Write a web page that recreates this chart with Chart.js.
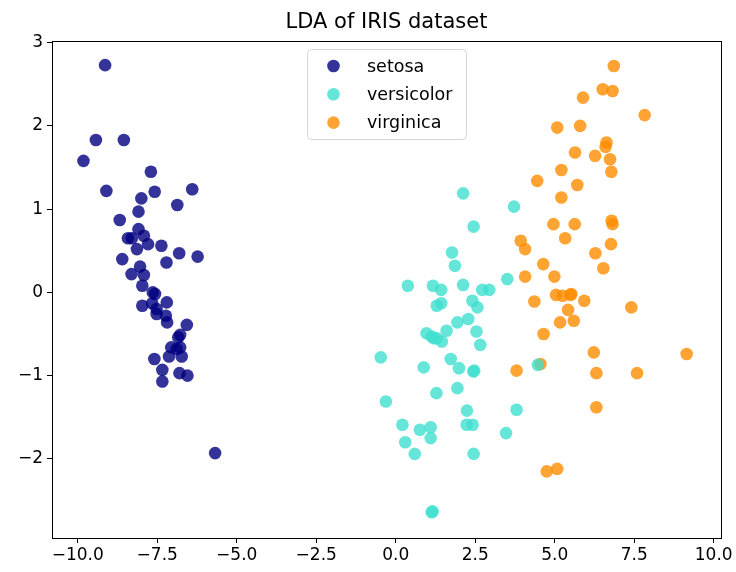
<!DOCTYPE html>
<html><head><meta charset="utf-8">
<script src="https://cdn.jsdelivr.net/npm/chart.js@4/dist/chart.umd.min.js"></script>
<style>html,body{margin:0;padding:0;background:#fff}#wrap{width:736px;height:572px;position:relative}</style>
</head><body><div id="wrap"><canvas id="c" width="736" height="572"></canvas></div>
<script>
const titleText = 'LDA of IRIS dataset';
const categories = ['setosa', 'versicolor', 'virginica'];
const colors = ['rgba(0,0,128,0.8)', 'rgba(64,224,208,0.8)', 'rgba(255,140,0,0.8)'];

const setosaX = [-9.14,-9.43,-8.55,-9.82,-7.70,-9.10,-7.58,-6.40,-8.00,-6.87,-8.09,-8.68,-8.09,-7.92,-8.42,-8.30,-8.14,-7.79,-7.37,-6.81,-6.23,-8.60,-7.21,-8.04,-8.31,-7.92,-7.97,-7.64,-7.57,-7.20,-7.66,-7.97,-7.52,-7.52,-7.23,-7.19,-6.57,-6.78,-6.84,-7.06,-6.89,-6.78,-7.13,-6.73,-7.59,-7.34,-6.80,-6.55,-7.34,-5.68];
const setosaY = [2.73,1.83,1.83,1.58,1.45,1.22,1.21,1.24,1.13,1.05,0.97,0.87,0.76,0.68,0.65,0.65,0.52,0.58,0.56,0.47,0.43,0.40,0.36,0.31,0.22,0.21,0.08,0.00,-0.02,-0.12,-0.13,-0.16,-0.20,-0.26,-0.28,-0.36,-0.39,-0.51,-0.54,-0.66,-0.68,-0.66,-0.77,-0.77,-0.80,-0.93,-0.97,-1.00,-1.07,-1.93];

const versicolorX = [2.12,3.72,2.45,1.77,1.86,0.38,1.17,1.43,2.12,2.72,2.94,3.51,2.41,2.57,1.29,1.43,1.94,2.28,2.54,0.97,1.13,1.29,1.45,1.60,2.66,-0.47,1.73,1.99,0.88,2.44,2.47,1.94,1.28,-0.31,2.24,3.80,0.21,0.76,1.10,1.10,2.23,2.42,3.47,0.30,0.60,2.45,1.16,1.13,4.47,1.20];
const versicolorY = [1.19,1.03,0.79,0.48,0.32,0.08,0.08,0.03,0.09,0.03,0.03,0.16,-0.10,-0.18,-0.16,-0.13,-0.36,-0.32,-0.47,-0.49,-0.53,-0.55,-0.59,-0.46,-0.63,-0.78,-0.80,-0.91,-0.90,-0.95,-0.94,-1.15,-1.21,-1.31,-1.42,-1.41,-1.59,-1.65,-1.62,-1.75,-1.59,-1.59,-1.69,-1.80,-1.94,-1.94,-2.63,-2.64,-0.87,-0.55];

const virginicaX = [6.86,6.51,6.82,5.89,7.83,5.08,5.80,6.63,6.60,5.64,6.27,6.74,6.78,5.21,4.45,5.71,5.21,4.96,5.63,6.79,6.82,3.93,5.33,6.77,4.07,6.28,4.64,6.53,4.07,4.99,5.04,5.25,5.50,5.93,4.36,5.42,7.41,5.17,5.60,4.65,6.23,9.15,4.55,3.80,6.31,7.59,6.31,4.75,5.08,5.52];
const virginicaY = [2.72,2.44,2.42,2.34,2.13,1.98,2.00,1.80,1.75,1.68,1.64,1.60,1.45,1.47,1.34,1.29,1.14,0.82,0.82,0.86,0.82,0.62,0.65,0.58,0.52,0.47,0.34,0.29,0.19,0.19,-0.03,-0.04,-0.03,-0.10,-0.11,-0.21,-0.18,-0.36,-0.34,-0.50,-0.72,-0.74,-0.86,-0.94,-0.97,-0.97,-1.38,-2.15,-2.12,-0.02];

const xTicks = [-10, -7.5, -5, -2.5, 0, 2.5, 5, 7.5, 10];
const yTicks = [-2, -1, 0, 1, 2, 3];
const xRange = [-10.81, 10.23];
const yRange = [-2.95, 3.02];

const seriesX = [setosaX, versicolorX, virginicaX];
const seriesY = [setosaY, versicolorY, virginicaY];

const FONT = '"DejaVu Sans", sans-serif';
const fmtMinus = s => String(s).replace('-', '\u2212');

const datasets = categories.map((name, i) => ({
  label: name,
  data: seriesX[i].map((x, j) => ({ x: x, y: seriesY[i][j] })),
  backgroundColor: colors[i],
  borderWidth: 0,
  pointRadius: 6.3,
  pointHoverRadius: 6.3
}));

const decor = {
  id: 'decor',
  afterDatasetsDraw(chart) {
    const ctx = chart.ctx, a = chart.chartArea;
    ctx.save();
    // frame
    ctx.strokeStyle = '#000';
    ctx.lineWidth = 1;
    ctx.strokeRect(Math.round(a.left) + 0.5, Math.round(a.top) + 0.5, Math.round(a.right - a.left), Math.round(a.bottom - a.top));
    // title
    ctx.fillStyle = '#000';
    ctx.font = '21px ' + FONT;
    ctx.textAlign = 'center';
    ctx.textBaseline = 'alphabetic';
    ctx.fillText(titleText, (a.left + a.right) / 2, 28);
    // legend
    const lx = 307.5, ly = 49.5, lw = 159, lh = 90, r = 4;
    ctx.beginPath();
    ctx.moveTo(lx + r, ly);
    ctx.arcTo(lx + lw, ly, lx + lw, ly + lh, r);
    ctx.arcTo(lx + lw, ly + lh, lx, ly + lh, r);
    ctx.arcTo(lx, ly + lh, lx, ly, r);
    ctx.arcTo(lx, ly, lx + lw, ly, r);
    ctx.closePath();
    ctx.fillStyle = 'rgba(255,255,255,0.8)';
    ctx.fill();
    ctx.strokeStyle = 'rgba(204,204,204,0.8)';
    ctx.stroke();
    ctx.font = '17.5px ' + FONT;
    ctx.textAlign = 'left';
    ctx.textBaseline = 'middle';
    chart.data.datasets.forEach((ds, i) => {
      const cy = 66 + i * 28.3;
      ctx.beginPath();
      ctx.arc(333.5, cy, 6.3, 0, Math.PI * 2);
      ctx.fillStyle = ds.backgroundColor;
      ctx.fill();
      ctx.fillStyle = '#000';
      ctx.fillText(ds.label, 367, cy + 1);
    });
    ctx.restore();
  }
};

new Chart(document.getElementById('c'), {
  type: 'scatter',
  data: { datasets: datasets },
  options: {
    responsive: false,
    animation: false,
    devicePixelRatio: 1,
    layout: { padding: { left: 0, top: 41, right: 15, bottom: 0 } },
    plugins: { legend: { display: false }, title: { display: false }, tooltip: { enabled: false } },
    scales: {
      x: {
        type: 'linear', min: xRange[0], max: xRange[1],
        afterBuildTicks: s => { s.ticks = xTicks.map(v => ({ value: v })); },
        afterFit: s => { s.height = 34; },
        grid: { display: true, drawOnChartArea: false, drawTicks: true, tickLength: 5, tickColor: '#000', tickWidth: 1 },
        border: { display: false },
        ticks: { color: '#000', padding: 2, maxRotation: 0, autoSkip: false, font: { family: FONT, size: 17 },
          callback: v => fmtMinus(Number(v).toFixed(1)) }
      },
      y: {
        type: 'linear', min: yRange[0], max: yRange[1],
        afterBuildTicks: s => { s.ticks = yTicks.map(v => ({ value: v })); },
        afterFit: s => { s.width = 52; },
        grid: { display: true, drawOnChartArea: false, drawTicks: true, tickLength: 5, tickColor: '#000', tickWidth: 1 },
        border: { display: false },
        ticks: { color: '#000', padding: 4, autoSkip: false, font: { family: FONT, size: 17 },
          callback: v => fmtMinus(String(v)) }
      }
    }
  },
  plugins: [decor]
});
</script></body></html>
